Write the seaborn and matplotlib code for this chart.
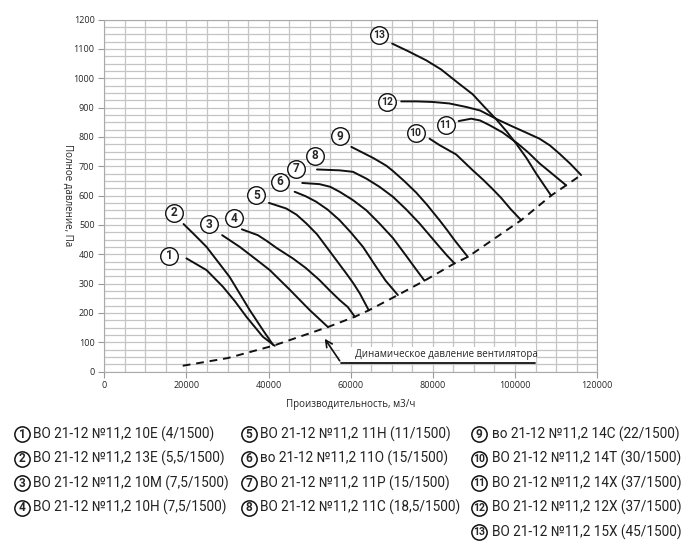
import pandas as pd
import matplotlib.pyplot as plt
import seaborn as sns
from matplotlib.ticker import MultipleLocator
from matplotlib.patches import Rectangle

# fan curves (flow m3/h, total pressure Pa)
curve_flow = [
    [20000, 24900, 28900, 31800, 34600, 38600, 41500],
    [19300, 22000, 24900, 30500, 35400, 38600, 41100],
    [28700, 33000, 37000, 40300, 45100, 50000, 54450],
    [33500, 37400, 39500, 42000, 45900, 49000, 52400, 55000, 57300, 59300, 61000],
    [40100, 44300, 46800, 49200, 51800, 54100, 56500, 58900, 60600, 62200, 64400],
    [46350, 49000, 51600, 54400, 57300, 60000, 63000, 66200, 68500, 71480],
    [48200, 52400, 55000, 57300, 60500, 63800, 67000, 70300, 73500, 76000, 77980],
    [51800, 57300, 60540, 63790, 67000, 70270, 73500, 76760, 79200, 81630, 83500, 85280],
    [60150, 65500, 68660, 70270, 73000, 75960, 78500, 81630, 83500, 85280, 88520],
    [79200, 81630, 85690, 89730, 92170, 94500, 96640, 99000, 101510],
    [86300, 89340, 91500, 93800, 97000, 100690, 103300, 105960, 109000, 112460],
    [72300, 76000, 80000, 84000, 88130, 91500, 95800, 99000, 102500, 105960, 108500, 110820, 113500, 116100],
    [70100, 74000, 78390, 82000, 86500, 89730, 92500, 95430, 98000, 100290, 102800, 105160, 108800],
]
curve_pressure = [
    [386, 346, 289, 240, 187, 119, 88],
    [503, 466, 425, 323, 210, 142, 91],
    [465, 425, 382, 346, 280, 210, 152],
    [485, 465, 446, 421, 386, 354, 312, 275, 244, 220, 187],
    [575, 556, 535, 505, 468, 425, 380, 335, 302, 267, 209],
    [613, 598, 579, 552, 516, 475, 425, 357, 310, 261],
    [643, 639, 630, 613, 585, 550, 505, 455, 395, 347, 310],
    [689, 686, 681, 658, 630, 596, 553, 505, 465, 425, 395, 369],
    [766, 728, 702, 684, 650, 610, 570, 516, 482, 448, 391],
    [794, 772, 740, 686, 655, 623, 592, 553, 516],
    [854, 862, 856, 840, 815, 777, 746, 710, 675, 635],
    [921, 921, 919, 914, 902, 890, 859, 838, 816, 794, 771, 743, 708, 670],
    [1118, 1092, 1061, 1030, 980, 945, 903, 860, 818, 777, 728, 675, 600],
]

# dynamic pressure of the fan (dashed line)
dyn_flow = [19100, 30000, 41300, 54450, 61000, 64400, 71480, 77980, 85280, 88520, 101510, 108800, 112460, 116100]
dyn_pressure = [20, 46, 89, 152, 187, 209, 261, 310, 369, 391, 516, 600, 635, 670]

# where the numbered circles sit
label_x = [15850, 16990, 25430, 31510, 37030, 42700, 46760, 51220, 57300, 75790, 83090, 68910, 66860]
label_y = [395, 541, 502, 522, 601, 647, 692, 735, 802, 813, 839, 919, 1146]

legend_names = [
    "ВО 21-12 №11,2 10Е (4/1500)",
    "ВО 21-12 №11,2 13Е (5,5/1500)",
    "ВО 21-12 №11,2 10М (7,5/1500)",
    "ВО 21-12 №11,2 10Н (7,5/1500)",
    "ВО 21-12 №11,2 11Н (11/1500)",
    "во 21-12 №11,2 11О (15/1500)",
    "ВО 21-12 №11,2 11Р (15/1500)",
    "ВО 21-12 №11,2 11С (18,5/1500)",
    "во 21-12 №11,2 14С (22/1500)",
    "ВО 21-12 №11,2 14Т (30/1500)",
    "ВО 21-12 №11,2 14Х (37/1500)",
    "ВО 21-12 №11,2 12Х (37/1500)",
    "ВО 21-12 №11,2 15Х (45/1500)",
]

x_ticks = [0, 20000, 40000, 60000, 80000, 100000, 120000]
y_ticks = list(range(0, 1201, 100))
note_text = "Динамическое давление вентилятора"

sns.set_style("white")
plt.rcParams['font.family'] = ['Open Sans', 'DejaVu Sans']
narrow = ['Roboto', 'DejaVu Sans']

rows = []
for i, (qs, ps) in enumerate(zip(curve_flow, curve_pressure)):
    for q, p in zip(qs, ps):
        rows.append({'fan': i + 1, 'flow': q, 'pressure': p})
df = pd.DataFrame(rows)

fig = plt.figure(figsize=(7, 5.58), dpi=100)
ax = fig.add_axes([0.149, 0.334, 0.704, 0.631])

sns.lineplot(data=df, x='flow', y='pressure', units='fan', estimator=None, sort=False,
             color='#111111', lw=1.4, ax=ax, zorder=3)
sns.lineplot(x=dyn_flow, y=dyn_pressure, color='#111111', lw=1.4, ax=ax,
             linestyle=(0, (4, 3)), zorder=3)

ax.set_xlim(0, 120000)
ax.set_ylim(0, 1200)
ax.set_xticks(x_ticks)
ax.set_xticklabels([str(v) for v in x_ticks])
ax.set_yticks(y_ticks)
ax.set_yticklabels([str(v) for v in y_ticks])
ax.xaxis.set_minor_locator(MultipleLocator(5000))
ax.yaxis.set_minor_locator(MultipleLocator(25))
ax.set_axisbelow(True)
ax.grid(which='both', color='#c4c4c4', lw=0.9)
ax.tick_params(which='major', length=4, color='#999999', labelsize=6.5, pad=3, left=True, bottom=True)
ax.tick_params(which='minor', length=0)
for s in ax.spines.values():
    s.set_color('#aaaaaa')
ax.set_xlabel("Производительность, м3/ч", fontsize=7, labelpad=6)
ax.set_ylabel("Полное давление, Па", fontsize=7, rotation=270, labelpad=22, va='bottom')
ax.yaxis.set_label_coords(-0.085, 0.5)

# numbered circles
ax.scatter(label_x, label_y, s=160, facecolor='white', edgecolor='#111111', lw=1.0, zorder=5)
for i, (lx, ly) in enumerate(zip(label_x, label_y)):
    ax.text(lx, ly, str(i + 1), ha='center', va='center', fontsize=8.5 if i < 9 else 7.5,
            fontweight='bold', family=narrow, zorder=6)

# dynamic pressure callout
ax.add_patch(Rectangle((57300, 33), 47700, 52, facecolor='white', edgecolor='none', zorder=2))
ax.plot([57700, 104900], [29, 29], color='#111111', lw=1.3, zorder=3)
ax.annotate('', xy=(53300, 120), xytext=(57700, 29),
            arrowprops=dict(arrowstyle='->', color='#111111', lw=1.2, mutation_scale=12), zorder=3)
ax.text(61000, 59, note_text, fontsize=7, va='center', ha='left', zorder=4)

# legend under the chart, in pixel coordinates
lax = fig.add_axes([0, 0, 1, 1 - 420 / 558])
lax.set_xlim(0, 700)
lax.set_ylim(558, 420)
lax.axis('off')
col_circle = [22, 249, 479]
col_text = [33, 260, 492]
row_y = [434, 458.5, 483, 507.5, 532]
for i, name in enumerate(legend_names):
    c = 0 if i < 4 else (1 if i < 8 else 2)
    r = i if i < 4 else (i - 4 if i < 8 else i - 8)
    lax.plot(col_circle[c], row_y[r], marker='o', ms=11, mfc='white', mec='#111111', mew=1.1)
    lax.text(col_circle[c], row_y[r] + 0.3, str(i + 1), ha='center', va='center',
             fontsize=8.5 if i < 9 else 7.5, fontweight='bold', family=narrow)
    lax.text(col_text[c], row_y[r], name, ha='left', va='center', fontsize=9.8,
             family=narrow, color='#222222')

fig.savefig("out.png", dpi=100)
